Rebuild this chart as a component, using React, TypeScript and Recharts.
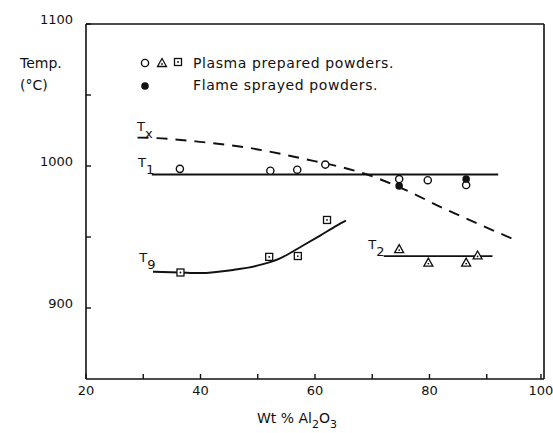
import React from 'react'
import {
  ComposedChart,
  Line,
  Scatter,
  XAxis,
  YAxis,
  ReferenceLine,
  ReferenceDot
} from 'recharts'

// axis ticks (minor ticks carry no label)
const xTicks = [20, 30, 40, 50, 60, 70, 80, 90, 100]
const xLabels = [20, 40, 60, 80, 100]
const yTicks = [900, 950, 1000, 1050, 1100]
const yLabels = [900, 1000, 1100]

// fitted curves
const txCurve = [
  { x: 29, y: 1020 },
  { x: 32, y: 1019.7 },
  { x: 39.9, y: 1017 },
  { x: 48.6, y: 1012.7 },
  { x: 57.4, y: 1005.6 },
  { x: 69.1, y: 994 },
  { x: 74.8, y: 985 },
  { x: 82.7, y: 969.7 },
  { x: 86.4, y: 963 },
  { x: 95.5, y: 947 }
]
const t1Line = [
  { x: 31.5, y: 994 },
  { x: 92, y: 994 }
]
const t9Curve = [
  { x: 31.7, y: 925.5 },
  { x: 36.4, y: 925 },
  { x: 39.9, y: 924.6 },
  { x: 45.7, y: 926.8 },
  { x: 49.9, y: 929.8 },
  { x: 53.9, y: 935 },
  { x: 57.9, y: 944 },
  { x: 60.9, y: 951 },
  { x: 63.8, y: 958 },
  { x: 65.4, y: 961.5 }
]
const t2Line = [
  { x: 72, y: 936.5 },
  { x: 91, y: 936.5 }
]

// measured points
const plasmaCircles = [
  { x: 36.4, y: 998 },
  { x: 52.2, y: 996.7 },
  { x: 56.9, y: 997.4 },
  { x: 61.8, y: 1001 },
  { x: 74.7, y: 990.8 },
  { x: 79.7, y: 990 },
  { x: 86.4, y: 986.6 }
]
const flameDots = [
  { x: 74.7, y: 986 },
  { x: 86.4, y: 990.8 }
]
const plasmaSquares = [
  { x: 36.5, y: 925 },
  { x: 52, y: 936 },
  { x: 57, y: 936.6 },
  { x: 62.1, y: 962 }
]
const plasmaTriangles = [
  { x: 74.7, y: 941.5 },
  { x: 79.8, y: 932 },
  { x: 86.4, y: 932 },
  { x: 88.4, y: 937 }
]

// curve names: [x, y, main, subscript]
const curveNames: [number, number, string, string][] = [
  [28.9, 1024.6, 'T', 'x'],
  [29.1, 999.3, 'T', '1'],
  [29.3, 932.4, 'T', '9'],
  [69.3, 941.5, 'T', '2']
]

const FONT = '"DejaVu Sans", sans-serif'
const INK = '#111'

const XTick = (props: any) => {
  const { x, y, payload } = props
  const show = xLabels.includes(payload.value)
  return (
    <g>
      <line x1={x} y1={y} x2={x} y2={y - 5} stroke={INK} strokeWidth={1.4} />
      {show && (
        <text x={x} y={y + 16} textAnchor="middle" fontSize={13} fontFamily={FONT} fill={INK}>
          {payload.value}
        </text>
      )}
    </g>
  )
}

const YTick = (props: any) => {
  const { x, y, payload } = props
  const show = yLabels.includes(payload.value)
  return (
    <g>
      <line x1={x} y1={y} x2={x + 5} y2={y} stroke={INK} strokeWidth={1.4} />
      {show && (
        <text x={x - 13} y={y} textAnchor="end" fontSize={13} fontFamily={FONT} fill={INK}>
          {payload.value}
        </text>
      )}
    </g>
  )
}

const OpenCircle = ({ cx, cy }: any) => (
  <circle cx={cx} cy={cy} r={3.6} fill="#fff" stroke={INK} strokeWidth={1.4} />
)
const FilledCircle = ({ cx, cy }: any) => <circle cx={cx} cy={cy} r={3.8} fill={INK} />
const DotSquare = ({ cx, cy }: any) => (
  <g>
    <rect x={cx - 3.5} y={cy - 3.5} width={7} height={7} fill="#fff" stroke={INK} strokeWidth={1.3} />
    <circle cx={cx} cy={cy} r={0.9} fill={INK} />
  </g>
)
const DotTriangle = ({ cx, cy }: any) => (
  <g>
    <path
      d={`M${cx},${cy - 4.5}L${cx + 4.5},${cy + 3.5}L${cx - 4.5},${cy + 3.5}Z`}
      fill="#fff"
      stroke={INK}
      strokeWidth={1.3}
    />
    <circle cx={cx} cy={cy + 1} r={0.9} fill={INK} />
  </g>
)

const AxisTitle = ({ viewBox }: any) => (
  <text x={viewBox.x + 171} y={viewBox.y + 44} fontSize={14} fontFamily={FONT} fill={INK}>
    Wt %  Al
    <tspan dy={5} fontSize={11}>2</tspan>
    <tspan dy={-5}>O</tspan>
    <tspan dy={5} fontSize={11}>3</tspan>
  </text>
)

export default function App() {
  return (
    <div style={{ position: 'absolute', left: 0, top: 0, width: 553, height: 433, background: '#fff' }}>
      <ComposedChart
        width={553}
        height={433}
        margin={{ top: 24, right: 9, bottom: 24, left: 26 }}
      >
        <XAxis
          type="number"
          dataKey="x"
          domain={[20, 100]}
          ticks={xTicks}
          allowDataOverflow
          height={30}
          tickSize={0}
          tickMargin={0}
          tickLine={false}
          axisLine={{ stroke: INK, strokeWidth: 1.6 }}
          tick={<XTick />}
          label={<AxisTitle />}
        />
        <YAxis
          type="number"
          dataKey="y"
          domain={[850, 1100]}
          ticks={yTicks}
          allowDataOverflow
          width={60}
          tickSize={0}
          tickMargin={0}
          tickLine={false}
          axisLine={{ stroke: INK, strokeWidth: 1.6 }}
          tick={<YTick />}
        />
        <ReferenceLine y={1100} stroke={INK} strokeWidth={1.6} />
        <ReferenceLine x={100} stroke={INK} strokeWidth={1.6} />

        <Line data={txCurve} dataKey="y" type="monotone" stroke={INK} strokeWidth={1.9}
          strokeDasharray="11 8" dot={false} isAnimationActive={false} />
        <Line data={t1Line} dataKey="y" type="linear" stroke={INK} strokeWidth={1.9}
          dot={false} isAnimationActive={false} />
        <Line data={t9Curve} dataKey="y" type="monotone" stroke={INK} strokeWidth={1.9}
          dot={false} isAnimationActive={false} />
        <Line data={t2Line} dataKey="y" type="linear" stroke={INK} strokeWidth={1.9}
          dot={false} isAnimationActive={false} />

        <Scatter data={plasmaCircles} dataKey="y" shape={<OpenCircle />} isAnimationActive={false} />
        <Scatter data={flameDots} dataKey="y" shape={<FilledCircle />} isAnimationActive={false} />
        <Scatter data={plasmaSquares} dataKey="y" shape={<DotSquare />} isAnimationActive={false} />
        <Scatter data={plasmaTriangles} dataKey="y" shape={<DotTriangle />} isAnimationActive={false} />

        {curveNames.map(([x, y, main, sub]) => (
          <ReferenceDot
            key={main + sub}
            x={x}
            y={y}
            r={0}
            shape={(p: any) => (
              <text x={p.cx} y={p.cy} fontSize={13} fontFamily={FONT} fill={INK}>
                {main}
                <tspan dy={7}>{sub}</tspan>
              </text>
            )}
          />
        ))}
      </ComposedChart>

      {/* axis caption and symbol key */}
      <div style={{ position: 'absolute', left: 20, top: 52, fontFamily: FONT, fontSize: 14, lineHeight: '22px', color: INK }}>
        <div>Temp.</div>
        <div>(°C)</div>
      </div>
      <svg width={553} height={433} style={{ position: 'absolute', left: 0, top: 0, pointerEvents: 'none' }}>
        <OpenCircle cx={145} cy={63} />
        <DotTriangle cx={162} cy={63} />
        <DotSquare cx={178} cy={62} />
        <text x={193} y={68} fontSize={14} fontFamily={FONT} fill={INK} letterSpacing={0.6}>
          Plasma prepared powders.
        </text>
        <FilledCircle cx={145} cy={86} />
        <text x={193} y={90} fontSize={14} fontFamily={FONT} fill={INK} letterSpacing={0.6}>
          Flame sprayed powders.
        </text>
      </svg>
    </div>
  )
}
